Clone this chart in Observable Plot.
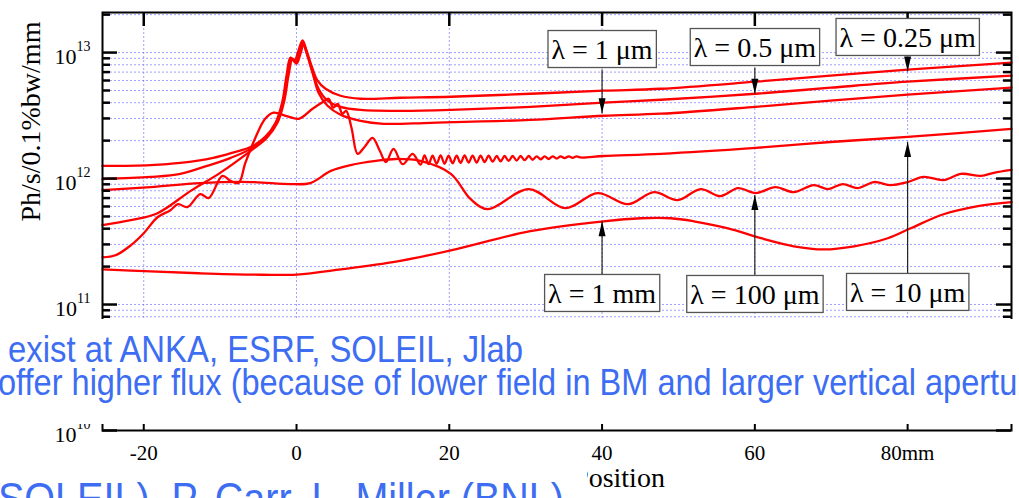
<!DOCTYPE html>
<html><head><meta charset="utf-8">
<script src="https://cdn.jsdelivr.net/npm/d3@7"></script>
<script src="https://cdn.jsdelivr.net/npm/@observablehq/plot@0.6"></script>
<style>
body{margin:0;background:#fff;}
#wrap{position:relative;width:1019px;height:498px;overflow:hidden;background:#fff;}
#wrap svg{display:block;}
#slide{position:absolute;left:0;top:0;}
</style></head><body><div id="wrap"></div>
<script>
// ---- axis ticks / labels ----
const xTicks = [-20, 0, 20, 40, 60, 80];
const xTickLabels = ["-20", "0", "20", "40", "60", "80mm"];
const yMajorTicks = [1e10, 1e11, 1e12, 1e13];
const yLabel = "Ph/s/0.1%bw/mm";
const xLabel = "Position";

// ---- series: [position (mm), flux (Ph/s/0.1%bw/mm)] ----
const flux_025um = [[-25.4,1.26e12],[-19.1,1.28e12],[-15.2,1.33e12],[-10.9,1.46e12],[-8.0,1.63e12],[-6.0,1.78e12],[-4.1,2.14e12],[-2.75,2.77e12],[-1.83,4.15e12],[-1.31,6.56e12],[-0.79,9.12e12],[-0.26,8.63e12],[0.26,1.04e13],[0.79,1.25e13],[1.31,1.04e13],[1.96,7.88e12],[2.75,5.98e12],[3.8,5.16e12],[5.76,4.54e12],[8.38,4.30e12],[13.6,4.38e12],[20.2,4.46e12],[30.6,4.71e12],[40.2,4.98e12],[47.7,5.16e12],[60.1,5.87e12],[69.9,6.56e12],[80.0,7.32e12],[93.6,8.32e12]];
const flux_05um = [[-25.4,9.91e11],[-19.1,1.03e12],[-15.2,1.09e12],[-11.7,1.26e12],[-8.6,1.46e12],[-6.0,1.72e12],[-4.1,2.10e12],[-2.6,2.77e12],[-1.7,4.15e12],[-1.2,6.56e12],[-0.65,8.96e12],[-0.13,8.32e12],[0.39,1.0e13],[0.79,1.20e13],[1.31,1.0e13],[1.96,7.45e12],[2.88,5.16e12],[4.06,4.15e12],[5.76,3.71e12],[8.38,3.51e12],[13.6,3.45e12],[20.2,3.51e12],[30.6,3.71e12],[40.2,4.0e12],[47.7,4.22e12],[60.1,4.71e12],[69.9,5.26e12],[80.0,5.87e12],[93.6,6.56e12]];
const flux_1um = [[-25.4,4.26e11],[-21.7,4.67e11],[-18.2,5.31e11],[-13.9,7.95e11],[-10.0,1.11e12],[-6.0,1.66e12],[-3.9,2.10e12],[-2.5,2.77e12],[-1.6,4.15e12],[-1.05,6.56e12],[-0.52,8.96e12],[0,8.17e12],[0.52,9.82e12],[0.92,1.16e13],[1.44,9.46e12],[2.1,6.93e12],[2.88,4.80e12],[4.06,3.78e12],[5.76,3.21e12],[8.38,2.87e12],[11.4,2.72e12],[17.6,2.77e12],[30.6,2.92e12],[40.2,3.15e12],[47.7,3.27e12],[60.1,3.71e12],[69.9,4.15e12],[80.0,4.63e12],[93.6,5.26e12]];
const flux_10um = [[-25.4,2.37e11],[-23.7,2.46e11],[-21.7,2.95e11],[-20.0,3.68e11],[-18.2,4.93e11],[-16.5,5.61e11],[-15.5,6.26e11],[-14.3,5.93e11],[-12.6,7.52e11],[-11.5,7.0e11],[-9.7,1.05e12],[-8.6,9.55e11],[-7.6,9.21e11],[-6.7,1.33e12],[-5.4,2.10e12],[-4.1,2.98e12],[-3.0,3.33e12],[-1.4,3.15e12],[0.3,2.98e12],[2.1,3.58e12],[3.5,4.07e12],[4.2,4.30e12],[4.8,3.65e12],[5.4,3.92e12],[6.0,3.27e12],[6.5,3.45e12],[7.2,2.52e12],[8.0,1.57e12],[8.9,1.78e12],[9.95,2.10e12],[10.9,1.66e12],[11.7,1.35e12],[12.7,1.72e12],[13.9,1.30e12],[15.2,1.57e12],
 [16.24,1.29e12],[16.76,1.53e12],[17.29,1.30e12],[17.81,1.52e12],[18.34,1.31e12],[18.86,1.53e12],[19.38,1.31e12],[19.91,1.52e12],[20.43,1.32e12],[20.96,1.52e12],[21.48,1.33e12],[22.00,1.53e12],[22.53,1.34e12],[23.05,1.52e12],[23.58,1.34e12],[24.10,1.52e12],[24.62,1.35e12],[25.15,1.52e12],[25.67,1.36e12],[26.20,1.51e12],[26.72,1.37e12],[27.24,1.51e12],[27.77,1.38e12],[28.29,1.51e12],[28.82,1.39e12],[29.34,1.51e12],[29.86,1.40e12],[30.39,1.51e12],[30.91,1.41e12],[31.44,1.50e12],[31.96,1.42e12],[32.48,1.50e12],[33.01,1.43e12],[33.53,1.50e12],[34.06,1.44e12],[34.58,1.50e12],[35.10,1.45e12],[35.63,1.50e12],[36.15,1.46e12],[36.68,1.50e12],[37.20,1.47e12],
 [40.2,1.51e12],[47.7,1.57e12],[60.1,1.75e12],[69.9,1.95e12],[80.0,2.14e12],[93.6,2.48e12]];
const flux_100um = [[-25.4,8.10e11],[-19.1,8.56e11],[-12.6,9.21e11],[-6.0,9.38e11],[-0.8,9.04e11],[1.8,9.21e11],[4.5,1.15e12],[7.1,1.28e12],[10.4,1.38e12],[13.0,1.43e12],[16.2,1.38e12],[20.2,1.09e12],[22.8,6.86e11],[25.0,5.71e11],[30.4,8.25e11],[35.2,5.82e11],[39.4,7.66e11],[43.4,6.26e11],[46.8,7.80e11],[49.9,6.74e11],[52.9,8.25e11],[55.5,7.25e11],[57.8,8.40e11],[60.1,7.66e11],[62.7,8.56e11],[65.1,7.80e11],[67.7,8.87e11],[69.6,8.25e11],[71.5,9.04e11],[73.5,8.40e11],[75.6,9.38e11],[77.8,8.87e11],[80.0,9.38e11],[82.1,1.03e12],[84.7,9.73e11],[87.0,1.09e12],[89.6,1.05e12],[91.3,1.11e12],[93.6,1.17e12]];
const flux_1mm = [[-25.4,1.90e11],[-19.1,1.83e11],[-12.6,1.77e11],[-6.0,1.73e11],[0,1.73e11],[5.8,1.90e11],[13.2,2.20e11],[20.2,2.69e11],[30.6,3.82e11],[40.2,4.58e11],[45.1,4.84e11],[49.0,4.84e11],[52.0,4.58e11],[56.5,4.03e11],[60.8,3.36e11],[65.1,2.90e11],[69.0,2.74e11],[73.0,2.90e11],[77.4,3.36e11],[80.4,4.03e11],[84.7,5.21e11],[89.2,6.04e11],[93.6,6.50e11]];

// ---- annotations ----
const annotLabel = ["λ = 0.25 μm", "λ = 0.5 μm", "λ = 1 μm", "λ = 10 μm", "λ = 100 μm", "λ = 1 mm"];
const annotX = [80, 60, 40, 80, 60, 40];
const annotLabelY = [1.305e13, 1.086e13, 1.047e13, 1.235e11, 1.19e11, 1.212e11];
const annotFromY = [9.12e12, 7.6e12, 7.32e12, 1.77e11, 1.70e11, 1.73e11];
const annotToY = [7.06e12, 4.71e12, 3.3e12, 1.95e12, 7.39e11, 4.58e11];

// ---- slide text overlay ----
const slideLines = ["exist at ANKA, ESRF, SOLEIL, Jlab", "offer higher flux (because of lower field in BM and larger vertical aperture)", "SOLEIL), P. Carr, L. Miller (BNL)"];

// ---------------------------------------------------------------
const W = 1019, H = 498, mL = 102, mR = 8, mT = 12, mB = 68;
const fw = W - mL - mR, fh = H - mT - mB;
const yTop = 2.08e13;
const yMinorTicks = yMajorTicks.flatMap(d => [2,3,4,5,6,7,8,9].map(k => k * d)).filter(v => v <= yTop);
const yAllTicks = yMajorTicks.concat(yMinorTicks);
const series = [flux_025um, flux_05um, flux_1um, flux_10um, flux_100um, flux_1mm];
const idx = annotLabel.map((_, i) => i);
const downIdx = idx.filter(i => annotFromY[i] > annotToY[i]);
const upIdx = idx.filter(i => annotFromY[i] < annotToY[i]);
const headDown = {draw(c){ c.moveTo(0,0); c.lineTo(-3.5,-15); c.lineTo(3.5,-15); c.closePath(); }};
const headUp = {draw(c){ c.moveTo(0,0); c.lineTo(-3.5,15); c.lineTo(3.5,15); c.closePath(); }};
const gridStyle = {stroke: "#6060ff", strokeOpacity: 0.6, strokeWidth: 1, strokeDasharray: "2,2"};

const svg = Plot.plot({
  width: W, height: H,
  marginLeft: mL, marginRight: mR, marginTop: mT, marginBottom: mB,
  style: {fontFamily: "'Liberation Serif', 'Times New Roman', serif", fontSize: "21px", background: "white", color: "black"},
  x: {domain: [-25.4, 93.6]},
  y: {type: "log", domain: [1e10, yTop]},
  marks: [
    Plot.ruleY(yAllTicks, {y: d => d, ...gridStyle}),
    Plot.ruleX(xTicks, {x: d => d, ...gridStyle}),
    ...series.map(s => Plot.line(s, {x: d => d[0], y: d => d[1], stroke: "#ff0000", strokeWidth: 2.3, curve: "catmull-rom"})),
    Plot.frame({stroke: "black", strokeWidth: 2}),
    Plot.tickX(xTicks, {x: d => d, insetTop: fh - 7, stroke: "black", strokeWidth: 2}),
    Plot.tickX(xTicks, {x: d => d, insetBottom: fh - 14, stroke: "black", strokeWidth: 2.5}),
    Plot.tickY(yMajorTicks, {y: d => d, insetRight: fw - 15, stroke: "black", strokeWidth: 2.5}),
    Plot.tickY(yMinorTicks, {y: d => d, insetRight: fw - 8, stroke: "black", strokeWidth: 2.5}),
    Plot.tickY(yMajorTicks, {y: d => d, insetLeft: fw - 15, stroke: "black", strokeWidth: 2.5}),
    Plot.tickY(yMinorTicks, {y: d => d, insetLeft: fw - 8, stroke: "black", strokeWidth: 2.5}),
    Plot.axisX(xTicks, {tickSize: 0, tickPadding: 15, label: null, fontSize: 21,
      tickFormat: d => xTickLabels[xTicks.indexOf(d)]}),
    Plot.axisY(yMajorTicks, {tickSize: 0, tickPadding: 12, label: null, fontSize: 22, dy: 4,
      tickFormat: d => "10^" + Math.round(Math.log10(d))}),
    Plot.text([yLabel], {text: d => d, frameAnchor: "left", rotate: -90, dx: -71, fontSize: 28}),
    Plot.text([xLabel], {text: d => d, frameAnchor: "bottom", dx: 62, dy: 56, fontSize: 28}),
    Plot.link(idx, {x1: i => annotX[i], x2: i => annotX[i], y1: i => annotFromY[i], y2: i => annotToY[i], stroke: "#222", strokeWidth: 1.2}),
    Plot.dot(downIdx, {x: i => annotX[i], y: i => annotToY[i], symbol: headDown, fill: "black", stroke: "none"}),
    Plot.dot(upIdx, {x: i => annotX[i], y: i => annotToY[i], symbol: headUp, fill: "black", stroke: "none"}),
    Plot.text(idx, {x: i => annotX[i], y: i => annotLabelY[i], text: i => annotLabel[i], fontSize: 28, fill: "black"})
  ]
});
const wrap = document.getElementById("wrap");
wrap.appendChild(svg);
const NS = "http://www.w3.org/2000/svg";

// tick label font sizes
svg.querySelectorAll("g[aria-label='x-axis tick label'] text").forEach(t => { t.style.fontSize = "21px"; });
svg.querySelectorAll("g[aria-label='y-axis tick label'] text").forEach(t => { t.style.fontSize = "22px"; });
// superscript exponents on y tick labels
svg.querySelectorAll("text").forEach(t => {
  const m = /^10\^(\d+)$/.exec(t.textContent);
  if (m) {
    t.style.fontSize = "22px";
    t.textContent = "10";
    const ts = document.createElementNS(NS, "tspan");
    ts.setAttribute("dy", "-13");
    ts.style.fontSize = "14px";
    ts.textContent = m[1];
    t.appendChild(ts);
  }
});
// boxes behind annotation labels
svg.querySelectorAll("text").forEach(t => {
  if (t.textContent.includes("λ")) {
    const b = t.getBBox();
    const r = document.createElementNS(NS, "rect");
    r.setAttribute("x", b.x - 3.5);
    r.setAttribute("y", b.y - 3.5);
    r.setAttribute("width", b.width + 7);
    r.setAttribute("height", b.height + 6);
    r.setAttribute("fill", "white");
    r.setAttribute("stroke", "#555");
    r.setAttribute("stroke-width", "1.3");
    if (t.hasAttribute("transform")) r.setAttribute("transform", t.getAttribute("transform"));
    t.parentNode.insertBefore(r, t);
  }
});

// slide text overlay (covers part of the chart, as in the picture)
const ov = document.createElementNS(NS, "svg");
ov.setAttribute("id", "slide");
ov.setAttribute("width", W);
ov.setAttribute("height", H);
const blue = "#3d6df2";
function addRect(x, y, w, h) {
  const r = document.createElementNS(NS, "rect");
  r.setAttribute("x", x); r.setAttribute("y", y); r.setAttribute("width", w); r.setAttribute("height", h);
  r.setAttribute("fill", "white");
  ov.appendChild(r);
}
function addText(s, x, y, size, len) {
  const t = document.createElementNS(NS, "text");
  t.setAttribute("x", x); t.setAttribute("y", y);
  t.setAttribute("font-family", "'Liberation Sans', Arial, sans-serif");
  t.setAttribute("font-size", size);
  t.setAttribute("fill", blue);
  t.setAttribute("textLength", len);
  t.setAttribute("lengthAdjust", "spacingAndGlyphs");
  t.textContent = s;
  ov.appendChild(t);
}
addRect(0, 319, W, 105);
addText(slideLines[0], 8, 362, 37, 515);
addText(slideLines[1], -2, 395, 37, 1059);
addRect(0, 468, 587, 30);
addText(slideLines[2], -2, 514, 44, 566);
wrap.appendChild(ov);
</script>
</body></html>
